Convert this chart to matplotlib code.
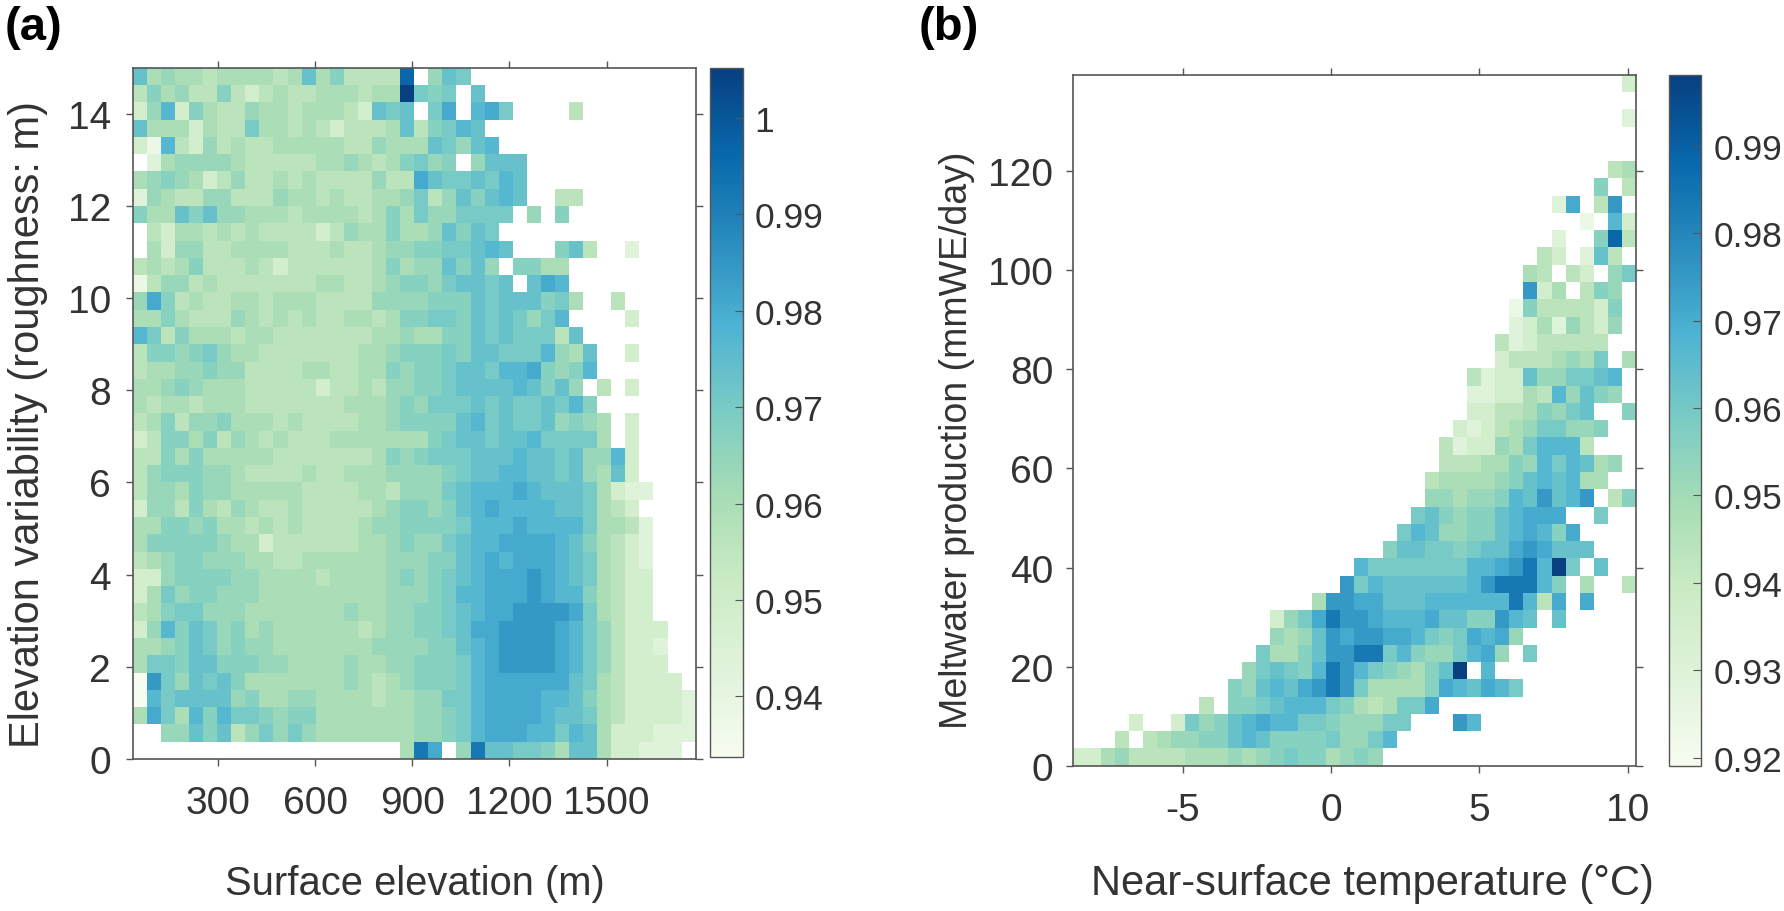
import numpy as np
import matplotlib
matplotlib.use("Agg")
import matplotlib.pyplot as plt

plt.rcParams['font.family'] = ['Liberation Sans', 'DejaVu Sans']
plt.rcParams['axes.unicode_minus'] = False

# Values: one string per grid row, top row first.
# '.' is an empty cell; other characters are colour steps between the limits (see STEP_FRACTIONS).
STEPS = '0123456789abcdefg'
STEP_FRACTIONS = [0.0, 0.06, 0.13, 0.21, 0.31, 0.365, 0.42, 0.465, 0.51, 0.555, 0.605, 0.655, 0.71,
                  0.82, 0.88, 0.94, 1.0]

roughness_rows = [
    "95655 45555 45957 4444e .698. ..... ..... .....",
    "47564 47434 54455 5455g 878.9 ..... ..... .....",
    "36a37 54465 54555 43989 .8b.a b8... .4... .....",
    "95553 54485 54543 44459 478a9 ..... ..... .....",
    "31a43 64544 55555 44655 59869 a.... ..... .....",
    ".2566 66544 44455 65457 867.6 999.. ..... .....",
    "56765 34644 54544 44644 b9889 8a9.. ..... .....",
    "26544 66444 65545 44556 84697 9a9.. 44... .....",
    "75597 96655 54555 54575 86688 88.6. 7.... .....",
    ".4355 45454 44434 65575 56979 8.... ..... .....",
    ".5366 44555 54445 44566 77889 a9... 794.. 2....",
    "45457 44454 34444 44575 66979 6.775 5.... .....",
    "14664 54444 44455 44567 76899 89.9b a.... .....",
    "6b745 44554 55544 44666 67779 89997 85..4 .....",
    "55754 44654 54544 55457 78879 89868 a.... 3....",
    "a8475 55455 44444 44556 55779 89888 49... .....",
    "47767 86554 44444 45567 77879 9888a 659.. 3....",
    "45566 76644 44554 45576 77899 8aab7 67a.. .....",
    "55676 55544 44434 45466 77899 99a97 96.4. 3....",
    "54554 55544 44444 55567 68889 89889 8a7.. .....",
    "45746 67555 45444 45567 7779a 89889 6765. 3....",
    "34775 74654 54445 55555 57899 899a8 8885. 3....",
    "44757 55555 44444 44576 78889 99a99 8966a 3....",
    "46777 66544 44544 55566 66789 9aa99 89659 3....",
    "46657 66555 55444 45546 6689a aaba9 99853 22...",
    "36647 54654 45444 44567 7679a baaaa 99854 3....",
    "55776 75545 45444 45667 7778a aabaa aa855 42...",
    "57777 76553 44444 45567 6689a abbbb a9754 32...",
    "45677 66655 44555 55566 6779a babbb a9854 32...",
    "33677 77665 55545 55567 6789a bbbcb a9854 33...",
    "35867 76665 55555 55566 678aa bbbcb aa754 33...",
    "45788 66655 55555 65566 7789a bbccc cb854 33...",
    "36a79 86756 55555 54566 7789b bcccc ba864 333..",
    "55679 86766 55555 55666 6779a bcccc ba864 332..",
    "58879 97776 65555 65566 7778a bcccc ba864 333..",
    "0c869 89755 55555 65456 7778a bbbbb b9854 3333.",
    "0a899 99675 56655 55455 6688a bbbba a9754 33332",
    "5b85a 7a887 67755 55555 6678a bbbba 99854 33332",
    "..669 79468 68655 55555 6678a bbbaa 8a953 33222",
    "..... ..... ..... ....5 db.6d 99887 59953 3222.",
]

meltwater_rows = [
    "..... ..... ..... ..... ..... ..... ..... ....3",
    "..... ..... ..... ..... ..... ..... ..... .....",
    "..... ..... ..... ..... ..... ..... ..... ....2",
    "..... ..... ..... ..... ..... ..... ..... .....",
    "..... ..... ..... ..... ..... ..... ..... .....",
    "..... ..... ..... ..... ..... ..... ..... ...45",
    "..... ..... ..... ..... ..... ..... ..... ..7.4",
    "..... ..... ..... ..... ..... ..... ....2 b.4c.",
    "..... ..... ..... ..... ..... ..... ..... .1.a3",
    "..... ..... ..... ..... ..... ..... ....2 ..7e4",
    "..... ..... ..... ..... ..... ..... ...43 .294.",
    "..... ..... ..... ..... ..... ..... ..54. 43.68",
    "..... ..... ..... ..... ..... ..... ..c35 .476.",
    "..... ..... ..... ..... ..... ..... .1744 4437.",
    "..... ..... ..... ..... ..... ..... .2352 6436.",
    "..... ..... ..... ..... ..... ..... 42344 444..",
    "..... ..... ..... ..... ..... ..... 34445 658.5",
    "..... ..... ..... ..... ..... ...42 33966 889a.",
    "..... ..... ..... ..... ..... ...22 3354a 6976.",
    "..... ..... ..... ..... ..... ...33 44576 89..7",
    "..... ..... ..... ..... ..... ..323 45688 667..",
    "..... ..... ..... ..... ..... .4233 658aa a4...",
    "..... ..... ..... ..... ..... .4445 576a8 a956.",
    "..... ..... ..... ..... ..... 45555 679a9 a55..",
    "..... ..... ..... ..... ..... 66566 7a9c9 ac.47",
    "..... ..... ..... ..... ....8 97677 9abbb ..8..",
    "..... ..... ..... ..... ...8a 96677 9aba7 b....",
    "..... ..... ..... ..... ..799 88789 9bcb9 99...",
    "..... ..... ..... ..... a8888 888aa bcdag 8.9..",
    "..... ..... ..... ....c 8a999 999ac ddda7 .5..4",
    "..... ..... ..... ..5cc bb999 aaaaa ada4b .b...",
    "..... ..... ....3 68bdc cbaaa b9977 ca9.9 .....",
    "..... ..... ....6 569cb ccbba 878ba b6... .....",
    "..... ..... ...85 579cc dd8a7 668ab 6.8.. .....",
    "..... ..... ..689 87adc a8765 79g.a ..... .....",
    "..... ..... .769a 9bcdc 85555 7ba9b a8... .....",
    "..... ....4 .7789 aaa87 54588 b.... ..... .....",
    "....3 ..386 79aba a8876 6688. ..ca. ..... .....",
    "...4. 45667 79a97 77786 68a.. ..... ..... .....",
    "33564 44455 56567 87756 76... ..... ..... .....",
]

elev_limits = [37.0, 1775.0]
rough_limits = [0.0, 15.0]
temp_limits = [-8.72, 10.28]
melt_limits = [0.0, 139.5]
clim_a = [0.9337, 1.0052]
clim_b = [0.9190, 0.9981]

elev_ticks = [300, 600, 900, 1200, 1500]
rough_ticks = [0, 2, 4, 6, 8, 10, 12, 14]
temp_ticks = [-5, 0, 5, 10]
melt_ticks = [0, 20, 40, 60, 80, 100, 120]
cbar_a_ticks = [0.94, 0.95, 0.96, 0.97, 0.98, 0.99, 1.0]
cbar_a_labels = ['0.94', '0.95', '0.96', '0.97', '0.98', '0.99', '1']
cbar_b_ticks = [0.92, 0.93, 0.94, 0.95, 0.96, 0.97, 0.98, 0.99]
cbar_b_labels = ['0.92', '0.93', '0.94', '0.95', '0.96', '0.97', '0.98', '0.99']

W, H = 1784, 912
TXT = '#333333'
SPINE = '#555555'


def decode(rows, clim):
    out = []
    for r in rows:
        chars = r.replace(' ', '')
        out.append([np.nan if c == '.' else clim[0] + STEP_FRACTIONS[STEPS.index(c)] * (clim[1] - clim[0])
                    for c in chars])
    return np.ma.masked_invalid(np.array(out))


def box(x0, y0, x1, y1):
    return [x0 / W, 1 - y1 / H, (x1 - x0) / W, (y1 - y0) / H]


def panel(pos, cpos, rows, clim, xlim, ylim, xticks, yticks, xlabel, ylabel,
          cticks, clabels, xlab_xy, ylab_xy, letter, letter_x, fs_x, fs_y, cb_pad, ypad):
    ax = fig.add_axes(box(*pos))
    Z = decode(rows, clim)
    xe = np.linspace(xlim[0], xlim[1], Z.shape[1] + 1)
    ye = np.linspace(ylim[1], ylim[0], Z.shape[0] + 1)
    m = ax.pcolormesh(xe, ye, Z, cmap='GnBu', vmin=clim[0], vmax=clim[1], linewidth=0, rasterized=True)
    ax.set_xlim(xlim)
    ax.set_ylim(ylim)
    ax.set_xticks(xticks)
    ax.set_yticks(yticks)
    ax.tick_params(direction='out', length=5, width=1, color=SPINE, labelsize=28, labelcolor=TXT,
                   top=True, right=True)
    ax.tick_params(axis='x', pad=14)
    ax.tick_params(axis='y', pad=ypad)
    for s in ax.spines.values():
        s.set_color(SPINE)
        s.set_linewidth(1.2)
    fig.text(xlab_xy[0] / W, 1 - xlab_xy[1] / H, xlabel, ha='center', va='center',
             fontsize=fs_x, color=TXT)
    fig.text(ylab_xy[0] / W, 1 - ylab_xy[1] / H, ylabel, ha='center', va='center',
             rotation=90, fontsize=fs_y, color=TXT)
    fig.text(letter_x / W, 1 - 28 / H, letter, ha='left', va='center', fontsize=34,
             fontweight='bold', color='black')
    cax = fig.add_axes(box(*cpos))
    cb = fig.colorbar(m, cax=cax)
    cb.set_ticks(cticks)
    cb.set_ticklabels(clabels)
    cb.ax.tick_params(direction='in', length=6, width=0.8, color=SPINE, labelsize=25.5,
                      labelcolor=TXT, pad=cb_pad)
    cb.outline.set_edgecolor(SPINE)
    cb.outline.set_linewidth(1.0)


fig = plt.figure(figsize=(W / 100, H / 100), dpi=100, facecolor='white')
panel((132.7, 68.7, 695.7, 760.0), (710.3, 69, 743.3, 758), roughness_rows, clim_a, elev_limits, rough_limits,
      elev_ticks, rough_ticks, 'Surface elevation (m)', 'Elevation variability (roughness: m)',
      cbar_a_ticks, cbar_a_labels, (415, 884), (28, 424), '(a)', 5, 28.7, 30, 8, 10.5)
panel((1072.7, 75.7, 1636.0, 766.7), (1669.3, 76, 1701.3, 767.3), meltwater_rows, clim_b, temp_limits, melt_limits,
      temp_ticks, melt_ticks, 'Near-surface temperature (°C)', 'Meltwater production (mmWE/day)',
      cbar_b_ticks, cbar_b_labels, (1372, 884), (957, 440), '(b)', 919, 30, 27, 9, 9)
fig.savefig('out.png', dpi=100)
